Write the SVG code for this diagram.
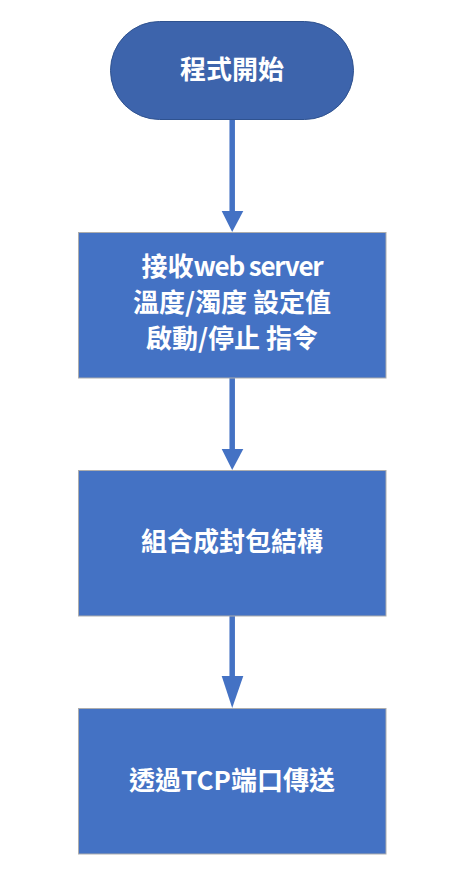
<svg xmlns="http://www.w3.org/2000/svg" width="451" height="876" viewBox="0 0 451 876">
<style>
.box{fill:#4472C4;stroke:#ADADAD;stroke-width:1}
.term{fill:#3D64AC;stroke:#2F528F;stroke-width:1}
.t{font-family:"Noto Sans CJK TC","Noto Sans CJK SC",sans-serif;font-weight:bold;font-size:26px;fill:#FFFFFF;text-anchor:middle}
.lat{letter-spacing:-1.2px}
.ln{stroke:#4472C4;stroke-width:5.5;fill:none}
.hd{fill:#4472C4}
</style>
<rect width="451" height="876" fill="#FFFFFF"/>
<g id="connectors">
<line class="ln" x1="232.2" y1="120" x2="232.2" y2="212"/>
<polygon class="hd" points="221.7,211 243.3,211 232.2,232"/>
<line class="ln" x1="232.2" y1="378" x2="232.2" y2="450"/>
<polygon class="hd" points="221.7,449 243.3,449 232.2,470"/>
<line class="ln" x1="232.2" y1="616" x2="232.2" y2="677"/>
<polygon class="hd" points="221.7,676 243.3,676 232.2,708"/>
</g>
<g id="start">
<rect class="term" x="110.5" y="21.5" width="243" height="98" rx="49" ry="49"/>
<text class="t" x="232" y="79">程式開始</text>
</g>
<g id="receive">
<rect class="box" x="78.5" y="232.5" width="307.5" height="145.5"/>
<text class="t" x="232" y="276">接收<tspan class="lat">web server</tspan></text>
<text class="t" x="232" y="312">溫度/濁度 設定值</text>
<text class="t" x="232" y="348">啟動/停止 指令</text>
</g>
<g id="pack">
<rect class="box" x="78.5" y="470.5" width="307.5" height="145.5"/>
<text class="t" x="232" y="551">組合成封包結構</text>
</g>
<g id="send">
<rect class="box" x="78.5" y="708.5" width="307.5" height="145.5"/>
<text class="t" x="232" y="790">透過TCP端口傳送</text>
</g>
</svg>
